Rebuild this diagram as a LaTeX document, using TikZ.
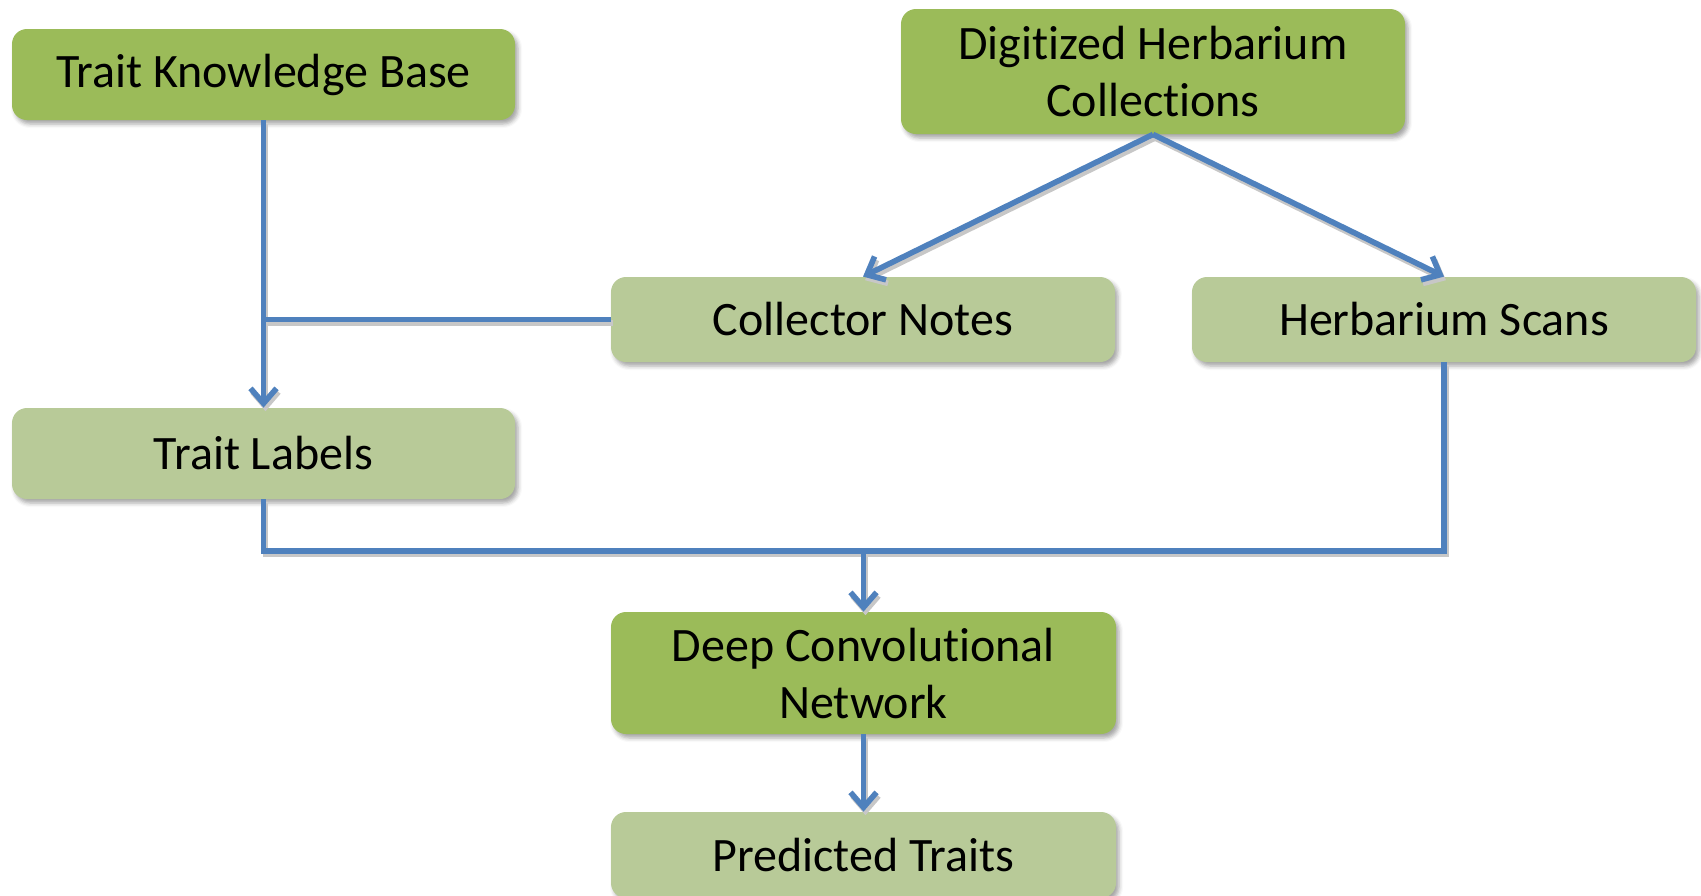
\documentclass[tikz,border=0pt]{standalone}
\usepackage{fontspec}
\setmainfont[Ligatures={NoCommon,NoRare,NoContextual}]{Carlito}
\usetikzlibrary{arrows.meta,shadows.blur}
\definecolor{darkg}{HTML}{9BBB59}
\definecolor{lightg}{RGB}{184,202,152}
\definecolor{lineblue}{HTML}{4F81BD}
\tikzset{
  box/.style={rounded corners=7.5pt, inner sep=0pt, align=center,
    font=\fontsize{24}{28.5}\selectfont, text=black,
    blur shadow={shadow xshift=1.5pt, shadow yshift=-2pt, shadow blur radius=2pt, shadow opacity=35}},
  darkbox/.style={box, fill=darkg},
  lightbox/.style={box, fill=lightg},
  conn/.style={draw=lineblue, line width=2.8pt,
    preaction={draw=black!22, line width=2.8pt, transform canvas={shift={(1pt,-1.8pt)}}}},
  tip/.style={-{Straight Barb[length=7.5pt,width=13pt]}}
}
\begin{document}
\begin{tikzpicture}[x=0.5pt,y=-0.5pt]
\useasboundingbox (0,0) rectangle (1701,895);
\begin{scope}
\clip (0,0) rectangle (1701,895);
\node[darkbox, minimum width=251.5pt, minimum height=45.5pt] (tkb) at (263.5,74.5) {Trait Knowledge Base};
\node[darkbox, minimum width=252pt, minimum height=62.5pt] (dhc) at (1153,71.5) {Digitized Herbarium\\Collections};
\node[lightbox, minimum width=252pt, minimum height=42.5pt] (cn) at (863,319.5) {Collector Notes};
\node[lightbox, minimum width=252pt, minimum height=42.5pt] (hs) at (1444,319.5) {Herbarium Scans};
\node[lightbox, minimum width=251.5pt, minimum height=45.5pt] (tl) at (263.5,453.5) {Trait Labels};
\node[darkbox, minimum width=252.5pt, minimum height=61pt] (dcn) at (863.5,673) {Deep Convolutional\\Network};
\node[lightbox, minimum width=252.5pt, minimum height=43pt] (pt) at (863.5,855) {Predicted Traits};
\end{scope}
\coordinate (j) at (863.5,551);
\draw[conn, tip] (tkb.south) -- (tl.north);
\draw[conn] (cn.west) -- (tkb.south |- cn.west);
\draw[conn, tip] (dhc.south) -- (cn.north);
\draw[conn, tip] (dhc.south) -- (hs.north);
\draw[conn] (tl.south) |- (j);
\draw[conn] (hs.south) |- (j);
\draw[conn, tip] (j) -- (dcn.north);
\draw[conn, tip] (dcn.south) -- (pt.north);
\end{tikzpicture}
\end{document}
